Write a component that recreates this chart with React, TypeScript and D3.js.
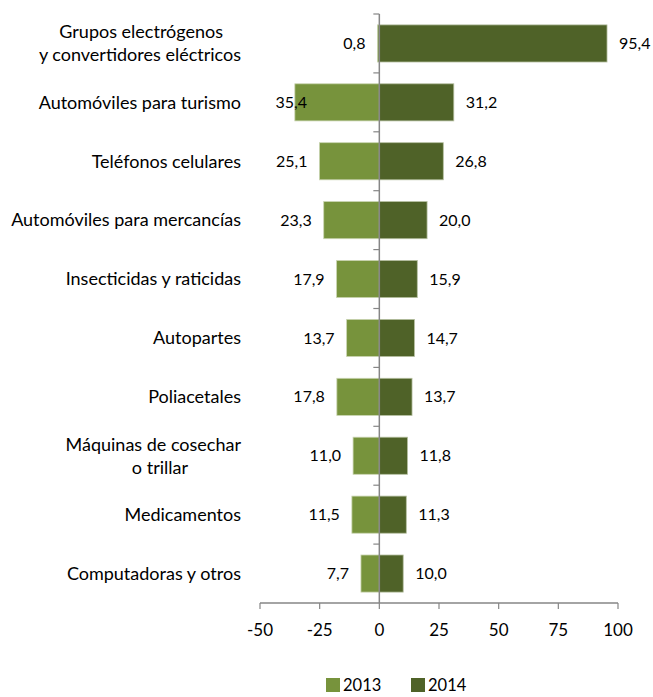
import React from "react";
import * as d3 from "d3";

const categories = [
  "Grupos electrógenos y convertidores eléctricos",
  "Automóviles para turismo",
  "Teléfonos celulares",
  "Automóviles para mercancías",
  "Insecticidas y raticidas",
  "Autopartes",
  "Poliacetales",
  "Máquinas de cosechar o trillar",
  "Medicamentos",
  "Computadoras y otros",
];
const categoryLines = [
  ["Grupos electrógenos", "y convertidores eléctricos"],
  ["Automóviles para turismo"],
  ["Teléfonos celulares"],
  ["Automóviles para mercancías"],
  ["Insecticidas y raticidas"],
  ["Autopartes"],
  ["Poliacetales"],
  ["Máquinas de cosechar", "o trillar"],
  ["Medicamentos"],
  ["Computadoras y otros"],
];
const values2013 = [0.8, 35.4, 25.1, 23.3, 17.9, 13.7, 17.8, 11.0, 11.5, 7.7];
const values2014 = [95.4, 31.2, 26.8, 20.0, 15.9, 14.7, 13.7, 11.8, 11.3, 10.0];
const xTicks = [-50, -25, 0, 25, 50, 75, 100];
const seriesNames = ["2013", "2014"];

const COLOR_2013 = "#77933C";
const COLOR_2014 = "#4F6228";
const AXIS = "#868686";
const FONT = "Lato, 'Open Sans', sans-serif";

export default function App() {
  const W = 653, H = 697;
  const x = d3.scaleLinear().domain([-50, 100]).range([260, 618]);
  const y = d3.scaleBand<string>().domain(categories).range([14, 603]).paddingInner(0.37).paddingOuter(0.185);
  const step = y.step();
  const fmt = (v: number) => d3.format(".1f")(v).replace(".", ",");
  const x0 = x(0);
  const lineOffsets: Record<number, number[]> = { 0: [18, 0], 7: [0, 53] };

  return (
    <svg width={W} height={H} style={{ position: "absolute", left: 0, top: 0, display: "block" }} fontFamily={FONT}>
      <rect width={W} height={H} fill="#fff" />
      {/* bars */}
      {categories.map((c, i) => {
        const yb = y(c)!;
        const bh = y.bandwidth();
        const v13 = values2013[i];
        const v14 = values2014[i];
        const left = x(-v13);
        const right = x(v14);
        const cy = yb + bh / 2;
        const labelEnd = Math.max(left - 12, 307);
        return (
          <g key={c}>
            <rect x={left} y={yb} width={x0 - left} height={bh} fill={COLOR_2013} stroke="#c9d4b0" strokeWidth={0.8} />
            <rect x={x0} y={yb} width={right - x0} height={bh} fill={COLOR_2014} stroke="#b5bfa0" strokeWidth={0.8} />
            <text x={labelEnd} y={cy} dy="0.35em" textAnchor="end" fontSize={16} fill="#000">{fmt(v13)}</text>
            <text x={right + 12} y={cy} dy="0.35em" textAnchor="start" fontSize={16} fill="#000">{fmt(v14)}</text>
          </g>
        );
      })}
      {/* vertical axis */}
      <line x1={x0} x2={x0} y1={14} y2={603} stroke={AXIS} strokeWidth={1.5} />
      {d3.range(categories.length).map((i) => {
        const yy = 14 + i * step;
        return <line key={i} x1={x0 - 6} x2={x0} y1={yy} y2={yy} stroke={AXIS} strokeWidth={1.2} />;
      })}
      {/* x axis */}
      <line x1={x(-50)} x2={x(100)} y1={603} y2={603} stroke={AXIS} strokeWidth={1.5} />
      {xTicks.map((t) => (
        <g key={t}>
          <line x1={x(t)} x2={x(t)} y1={603} y2={609} stroke={AXIS} strokeWidth={1.2} />
          <text x={x(t)} y={630} dy="0.35em" textAnchor="middle" fontSize={17} fill="#000">{t}</text>
        </g>
      ))}
      {/* category labels */}
      {categories.map((c, i) => {
        const lines = categoryLines[i];
        const cy = y(c)! + y.bandwidth() / 2;
        const lh = 23;
        return lines.map((ln, j) => {
          const off = lineOffsets[i] ? lineOffsets[i][j] : 0;
          const yy = cy + (j - (lines.length - 1) / 2) * lh;
          return (
            <text key={c + j} x={241 - off} y={yy} dy="0.35em" textAnchor="end" fontSize={18} fill="#000">{ln}</text>
          );
        });
      })}
      {/* legend */}
      {seriesNames.map((s, i) => {
        const lx = 326 + i * 85;
        return (
          <g key={s}>
            <rect x={lx} y={678} width={14} height={14} fill={i === 0 ? COLOR_2013 : COLOR_2014} />
            <text x={lx + 17} y={691} fontSize={16.5} fill="#000">{s}</text>
          </g>
        );
      })}
    </svg>
  );
}
